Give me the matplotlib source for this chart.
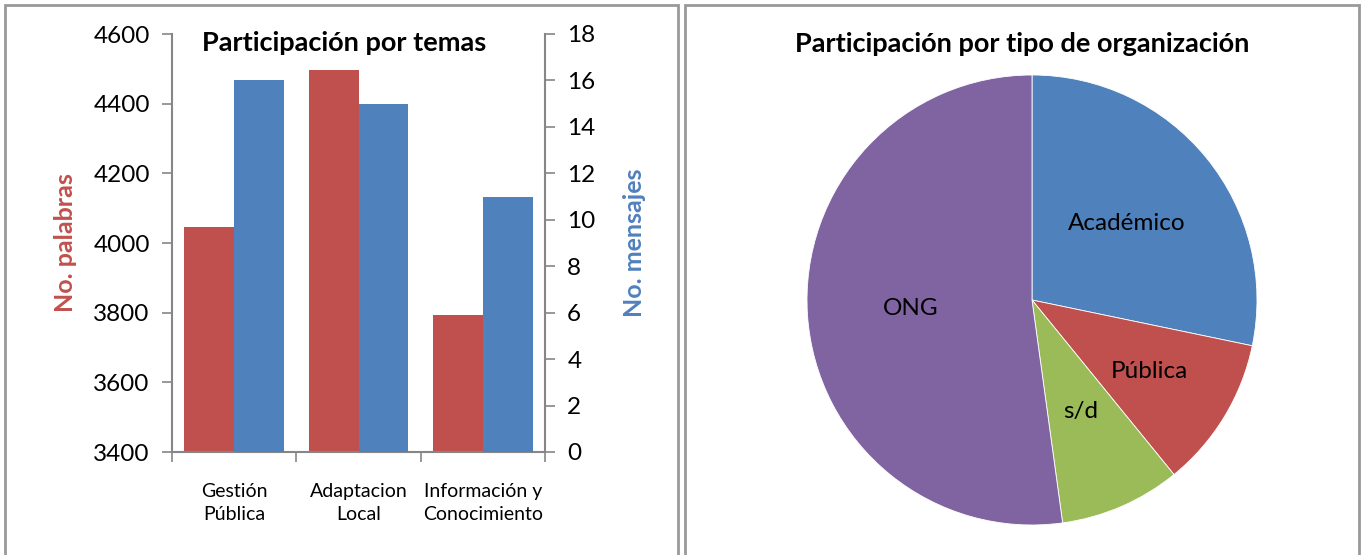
import numpy as np
import matplotlib
matplotlib.use("Agg")
from matplotlib import pyplot as plt
from matplotlib.patches import Rectangle

plt.rcParams['font.family'] = ['Lato', 'DejaVu Sans']

# data
temas = ["Gestión\nPública", "Adaptacion\nLocal", "Información y\nConocimiento"]
palabras = [4046, 4497, 3793]
mensajes = [16, 15, 11]

org_labels = ["Académico", "Pública", "s/d", "ONG"]
org_values = [13, 5, 4, 24]

RED = "#C0504D"
BLUE = "#4F81BD"
GREEN = "#9BBB59"
PURPLE = "#8064A2"
GRAY = "#868686"

W, H = 1364, 555
fig = plt.figure(figsize=(W / 100, H / 100), dpi=100)

# panel borders
for x0, x1 in [(5, 678), (685, 1359)]:
    fig.patches.append(Rectangle((x0 / W, -0.1), (x1 - x0) / W, 1.1 - 5 / H,
                                 transform=fig.transFigure, fill=False,
                                 edgecolor="#999999", linewidth=2))

# ---- left: bars ----
ax = fig.add_axes([172 / W, 1 - 452 / H, (545 - 172) / W, (452 - 34) / H])
ax2 = ax.twinx()
x = np.arange(len(temas))
w = 0.4
ax.bar(x - w / 2, palabras, w, color=RED)
ax2.bar(x + w / 2, mensajes, w, color=BLUE)
ax.set_ylim(3400, 4600)
ax.set_yticks(np.arange(3400, 4601, 200))
ax2.set_ylim(0, 18)
ax2.set_yticks(np.arange(0, 19, 2))
ax.set_xlim(-0.5, 2.5)
ax.set_xticks(x)
ax.set_xticklabels(temas, fontsize=14, linespacing=1.45)
ax.set_xticks([-0.5, 0.5, 1.5, 2.5], minor=True)
ax.tick_params(axis="x", which="major", length=0, pad=22)
ax.tick_params(axis="x", which="minor", length=7, color=GRAY, width=1.2)
for a in (ax, ax2):
    for s in a.spines.values():
        s.set_visible(False)
    a.tick_params(axis="y", labelsize=17.5, length=7, color=GRAY, width=1.2, pad=9)
ax.spines["left"].set_visible(True)
ax.spines["bottom"].set_visible(True)
ax2.spines["right"].set_visible(True)
for s in (ax.spines["left"], ax.spines["bottom"], ax2.spines["right"]):
    s.set_color(GRAY)
    s.set_linewidth(1.5)
ax.set_ylabel("No. palabras", color=RED, fontsize=18, fontweight="bold", labelpad=12)
ax2.set_ylabel("No. mensajes", color=BLUE, fontsize=18, fontweight="bold", labelpad=20)
ax.set_title("Participación por temas", fontsize=19.5, fontweight="bold",
             x=0.461, y=0.93, va="bottom")

# ---- right: pie ----
pax = fig.add_axes([(1032 - 225) / W, 1 - (300 + 225) / H, 450 / W, 450 / H])
wedges, texts = pax.pie(org_values, labels=org_labels, colors=[BLUE, RED, GREEN, PURPLE],
                        startangle=90, counterclock=False, labeldistance=0.54,
                        wedgeprops=dict(edgecolor="white", linewidth=0.6),
                        textprops=dict(fontsize=17.5, ha="center", va="center"))
px, py = texts[1].get_position()
texts[1].set_position((px * 1.13, py * 1.13))
pax.set_xlim(-1, 1)
pax.set_ylim(-1, 1)
pax.set_aspect("equal")
fig.text(1022 / W, 1 - 44 / H, "Participación por tipo de organización",
         fontsize=19.5, fontweight="bold", ha="center", va="center")

fig.savefig("out.png", dpi=100)
